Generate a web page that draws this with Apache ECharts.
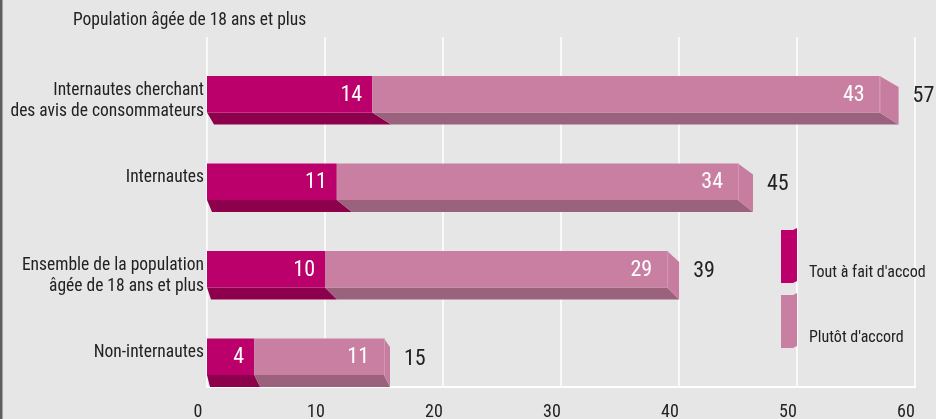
<!DOCTYPE html>
<html>
<head>
<meta charset="utf-8">
<script src="https://cdn.jsdelivr.net/npm/echarts@6/dist/echarts.min.js"></script>
<style>
  html, body { margin: 0; padding: 0; background: #e6e6e6; }
  #chart { width: 936px; height: 419px; }
</style>
</head>
<body>
<div id="chart"></div>
<script>
// Agreement shares (%) by population group
const categories = [
  'Internautes cherchant\ndes avis de consommateurs',
  'Internautes',
  'Ensemble de la population\nâgée de 18 ans et plus',
  'Non-internautes'
];
const toutAFait = [14, 11, 10, 4];
const plutot = [43, 34, 29, 11];
const xTicks = [0, 10, 20, 30, 40, 50, 60];
const seriesNames = ["Tout à fait d'accod", "Plutôt d'accord"];
const titleText = 'Population âgée de 18 ans et plus';

// Look of the extruded bars
const FONT = "'Liberation Sans Narrow', 'Roboto Condensed', 'DejaVu Sans Condensed', sans-serif";
const depthRight = [19, 15, 12, 6];   // underside shift at segment ends, per row
const depthLeft = [7, 5, 4, 3];       // underside shift at bar start, per row
const frontColors = ['#bb006b', '#c97fa2'];
const underColors = ['#8d004c', '#9b627d'];
const sideColor = '#c77d9f';
const innerPad = [10, 15];

function makeRender(k) {
  return function (params, api) {
    const i = api.value(0);
    const val = api.value(1);
    const start = k === 0 ? 0 : toutAFait[i];
    const p0 = api.coord([start, i]);
    const p1 = api.coord([start + val, i]);
    const band = api.size([0, 1])[1];
    const cy = p0[1];
    const x0 = p0[0], x1 = p1[0];
    const yt = cy - band * 0.054;
    const yb = cy + band * 0.363;
    const ybot = cy + band * 0.5;
    const dL = k === 0 ? depthLeft[i] : depthRight[i];
    const dR = depthRight[i];
    const children = [
      {
        type: 'polygon',
        shape: { points: [[x0, yb], [x1, yb], [x1 + dR, ybot], [x0 + dL, ybot]] },
        style: { fill: underColors[k] }
      },
      {
        type: 'rect',
        shape: { x: x0, y: yt, width: x1 - x0, height: yb - yt },
        style: { fill: frontColors[k] }
      }
    ];
    if (k === 1) {
      children.push({
        type: 'polygon',
        shape: { points: [[x1, yt], [x1 + dR, yt + Math.min(11, dR * 1.4)], [x1 + dR, ybot], [x1, yb]] },
        style: { fill: sideColor }
      });
      children.push({
        type: 'line',
        shape: { x1: x1 + 0.5, y1: yt, x2: x1 + 0.5, y2: yb },
        style: { stroke: '#d596b3', lineWidth: 1 }
      });
      children.push({
        type: 'text',
        x: x1 + dR + 14,
        y: (yt + yb) / 2 + 2.5,
        style: {
          text: String(toutAFait[i] + plutot[i]),
          fill: '#222',
          font: '22px ' + FONT,
          align: 'left',
          verticalAlign: 'middle'
        }
      });
    }
    children.push({
      type: 'text',
      x: x1 - innerPad[k],
      y: (yt + yb) / 2 + 1,
      style: {
        text: String(val),
        fill: '#ffffff',
        font: '22px ' + FONT,
        align: 'right',
        verticalAlign: 'middle'
      }
    });
    return { type: 'group', children: children };
  };
}

const legendIcon = 'path://M0,2 L12,2 L16,0 L16,53 L12,55 L0,55 Z';

const chart = echarts.init(document.getElementById('chart'), null, { renderer: 'canvas' });
chart.setOption({
  backgroundColor: '#e6e6e6',
  animation: false,
  textStyle: { fontFamily: FONT },
  title: {
    text: titleText,
    left: 73,
    top: 12,
    padding: 0,
    textStyle: { fontFamily: FONT, fontSize: 17.5, fontWeight: 'normal', color: '#222' }
  },
  legend: {
    orient: 'vertical',
    left: 781,
    top: 228,
    itemWidth: 16,
    itemHeight: 55,
    itemGap: 10,
    padding: 0,
    data: seriesNames.map(function (n) { return { name: n, icon: legendIcon }; }),
    // name sits low, beside the foot of the swatch
    formatter: function (name) { return '{s| }\n{t|' + name + '}'; },
    textStyle: {
      fontFamily: FONT, fontSize: 16, color: '#222',
      padding: [0, 0, 0, 7],
      rich: {
        s: { fontFamily: FONT, fontSize: 16, lineHeight: 34 },
        t: { fontFamily: FONT, fontSize: 16, lineHeight: 22, color: '#222' }
      }
    }
  },
  grid: { left: 207, right: 21, top: 37, bottom: 32, containLabel: false, outerBoundsMode: 'none' },
  xAxis: {
    type: 'value',
    min: xTicks[0],
    max: xTicks[xTicks.length - 1],
    interval: xTicks[1] - xTicks[0],
    axisLine: { show: true, lineStyle: { color: '#ffffff', width: 2 } },
    axisTick: { show: false },
    splitLine: { show: true, lineStyle: { color: '#ffffff', width: 1.5 } },
    axisLabel: {
      fontFamily: FONT, fontSize: 18, color: '#222', margin: 16,
      padding: [0, 18, 0, 0]
    }
  },
  yAxis: {
    type: 'category',
    inverse: true,
    data: categories,
    axisLine: { show: false },
    axisTick: { show: false },
    splitLine: { show: false },
    axisLabel: {
      fontFamily: FONT, fontSize: 17.5, color: '#222', margin: 3,
      align: 'right', verticalAlign: 'top', lineHeight: 21,
      padding: [-1, 0, 0, 0]
    }
  },
  graphic: [
    { type: 'rect', left: 0, top: 0, shape: { width: 2.5, height: 419 }, style: { fill: '#5f5f5f' }, silent: true }
  ],
  series: [
    {
      name: seriesNames[0],
      type: 'custom',
      itemStyle: { color: frontColors[0] },
      encode: { x: 1, y: 0 },
      data: toutAFait.map(function (v, i) { return [i, v]; }),
      renderItem: makeRender(0)
    },
    {
      name: seriesNames[1],
      type: 'custom',
      itemStyle: { color: frontColors[1] },
      encode: { x: 1, y: 0 },
      data: plutot.map(function (v, i) { return [i, v]; }),
      renderItem: makeRender(1)
    }
  ]
});
</script>
</body>
</html>
